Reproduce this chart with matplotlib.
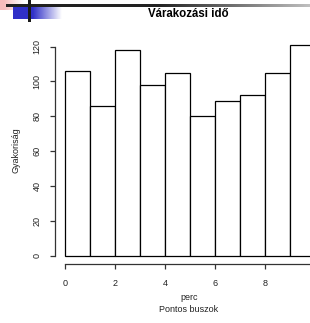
import numpy as np
import matplotlib
matplotlib.use("Agg")
import matplotlib.pyplot as plt
from matplotlib.colors import to_rgb

plt.rcParams['font.family'] = ['Liberation Sans', 'DejaVu Sans']

# Adatok: várakozási idő hisztogram (pontos buszok)
bin_edges = [0, 1, 2, 3, 4, 5, 6, 7, 8, 9, 10]
counts = [106, 86, 118, 98, 105, 80, 89, 92, 105, 121]
xticks = [0, 2, 4, 6, 8, 10]
yticks = [0, 20, 40, 60, 80, 100, 120]
title = "Várakozási idő"
xlab = "perc"
sub = "Pontos buszok"
ylab = "Gyakoriság"

W, H = 310, 323
fig = plt.figure(figsize=(W / 100, H / 100), dpi=100)

def px(x, y):
    # pixel (balról, felülről) -> figure koordináta
    return x / W, 1 - y / H

# plot régió R-stílusban (jobb oldalon levágva)
left, right, top, bottom = 55, 325, 36.5, 264
ax = fig.add_axes([left / W, 1 - bottom / H, (right - left) / W, (bottom - top) / H])

widths = np.diff(bin_edges)
ax.bar(bin_edges[:-1], counts, width=widths, align='edge', color='white',
       edgecolor='black', linewidth=0.9)

ax.set_xlim(-0.4, 10.4)
ax.set_ylim(-0.04 * max(counts), 1.04 * max(counts))
ax.set_xticks(xticks)
ax.set_yticks(yticks)
ax.set_xticklabels([str(t) for t in xticks], fontsize=6.5, color='#222222')
ax.set_yticklabels([str(t) for t in yticks], fontsize=6.5, color='#222222',
                   rotation=90, va='center')

for s in ['top', 'right']:
    ax.spines[s].set_visible(False)
ax.spines['left'].set_bounds(0, 120)
ax.spines['bottom'].set_bounds(0, 10)
for s in ['left', 'bottom']:
    ax.spines[s].set_linewidth(0.9)
    ax.spines[s].set_color('#333333')
ax.tick_params(axis='both', length=3.6, width=0.9, color='#333333')
ax.tick_params(axis='y', pad=6)
ax.tick_params(axis='x', pad=7.5)

fig.text(*px(188, 14), title, fontsize=8.3, fontweight='bold', ha='center', va='center')
fig.text(*px(189, 298), xlab, fontsize=6.5, ha='center', va='center', color='#222222')
fig.text(*px(189, 310), sub, fontsize=6.5, ha='center', va='center', color='#222222')
fig.text(*px(16, 150), ylab, fontsize=6.5, ha='center', va='center', rotation=90,
         color='#222222')

# dia dekoráció bal felül
deco = fig.add_axes([0, 0, 1, 1], zorder=5)
deco.set_xlim(0, W)
deco.set_ylim(H, 0)
deco.axis('off')

def grad_rect(x0, x1, y0, y1, color, solid_until, alpha0=1.0):
    n = 200
    xs = np.linspace(x0, x1, n)
    a = np.where(xs <= solid_until, alpha0,
                 alpha0 * np.clip((x1 - xs) / max(x1 - solid_until, 1e-6), 0, 1))
    img = np.zeros((1, n, 4))
    img[..., :3] = to_rgb(color)
    img[0, :, 3] = a
    deco.imshow(img, extent=(x0, x1, y1, y0), aspect='auto', interpolation='bilinear')

grad_rect(0, 24, 0, 10, '#f4a0a0', 4, 0.7)
grad_rect(13, 62, 4, 19, '#3030c8', 33)

# fekete vízszintes vonal, jobbra világosodik
n = 300
shade = np.full(n, 0.13)
shade[n // 2:] = np.linspace(0.13, 0.75, n - n // 2)
line = np.repeat(shade[None, :, None], 3, axis=2)
deco.imshow(line, extent=(6, W, 7, 4), aspect='auto', interpolation='bilinear')
deco.fill_between([28, 31], 0, 22, color='#1a1a1a', linewidth=0)
deco.set_xlim(0, W)
deco.set_ylim(H, 0)

fig.savefig("out.png", dpi=100)
